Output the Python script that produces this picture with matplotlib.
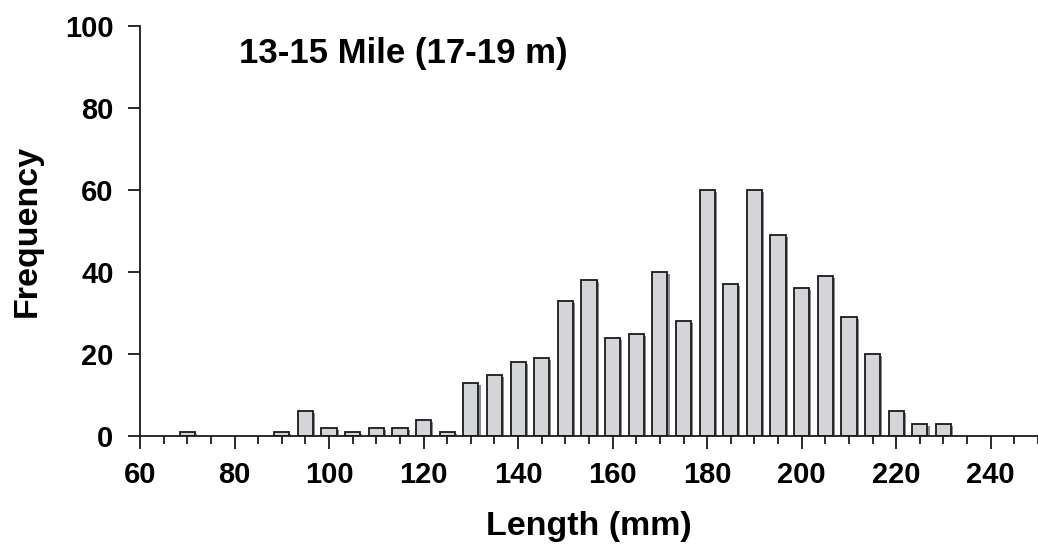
import matplotlib
matplotlib.use("Agg")
import matplotlib.pyplot as plt
from matplotlib.ticker import MultipleLocator

plt.rcParams['font.family'] = ['Liberation Sans', 'DejaVu Sans']
plt.rcParams['font.weight'] = 'bold'

lengths = [70, 90, 95, 100, 105, 110, 115, 120, 125, 130, 135, 140, 145, 150, 155,
           160, 165, 170, 175, 180, 185, 190, 195, 200, 205, 210, 215, 220, 225, 230]
freq = [1, 1, 6, 2, 1, 2, 2, 4, 1, 13, 15, 18, 19, 33, 38,
        24, 25, 40, 28, 60, 37, 60, 49, 36, 39, 29, 20, 6, 3, 3]
x_ticks = [60, 80, 100, 120, 140, 160, 180, 200, 220, 240]
y_ticks = [0, 20, 40, 60, 80, 100]
title = "13-15 Mile (17-19 m)"

fig = plt.figure(figsize=(10.38, 5.48), dpi=100)
ax = fig.add_axes([140/1038, 1-436/548, 898/1038, 410/548])

w = 3.2
# shadow
ax.bar([l + 0.45 for l in lengths], [max(f - 0.5, 0) for f in freq], width=w,
       color='#8c8c8c', edgecolor='none', zorder=1)
ax.bar(lengths, freq, width=w, color='#d4d5d8', edgecolor='#1a1a1a',
       linewidth=1.3, zorder=2)

ax.set_xlim(60, 250)
ax.set_ylim(0, 100)
ax.set_xticks(x_ticks)
ax.set_yticks(y_ticks)
ax.xaxis.set_minor_locator(MultipleLocator(5))
for s in ['top', 'right']:
    ax.spines[s].set_visible(False)
for s in ['left', 'bottom']:
    ax.spines[s].set_linewidth(1.3)
    ax.spines[s].set_color('#1a1a1a')
ax.spines['bottom'].set_zorder(3)

ax.tick_params(axis='both', which='major', direction='out', length=9, width=1.3,
               color='#1a1a1a', labelsize=21)
ax.tick_params(axis='x', which='major', pad=9)
ax.tick_params(axis='y', which='major', pad=10)
ax.tick_params(axis='x', which='minor', direction='out', length=6, width=1.3,
               color='#1a1a1a')
for lbl in ax.get_xticklabels() + ax.get_yticklabels():
    lbl.set_fontweight('bold')

ax.set_xlabel("Length (mm)", fontsize=24.5, fontweight='bold', labelpad=16)
ax.set_ylabel("Frequency", fontsize=24.5, fontweight='bold', labelpad=16)
ax.text(81, 93.3, title, fontsize=25, fontweight='bold', ha='left', va='center')

fig.savefig("out.png", dpi=100)
